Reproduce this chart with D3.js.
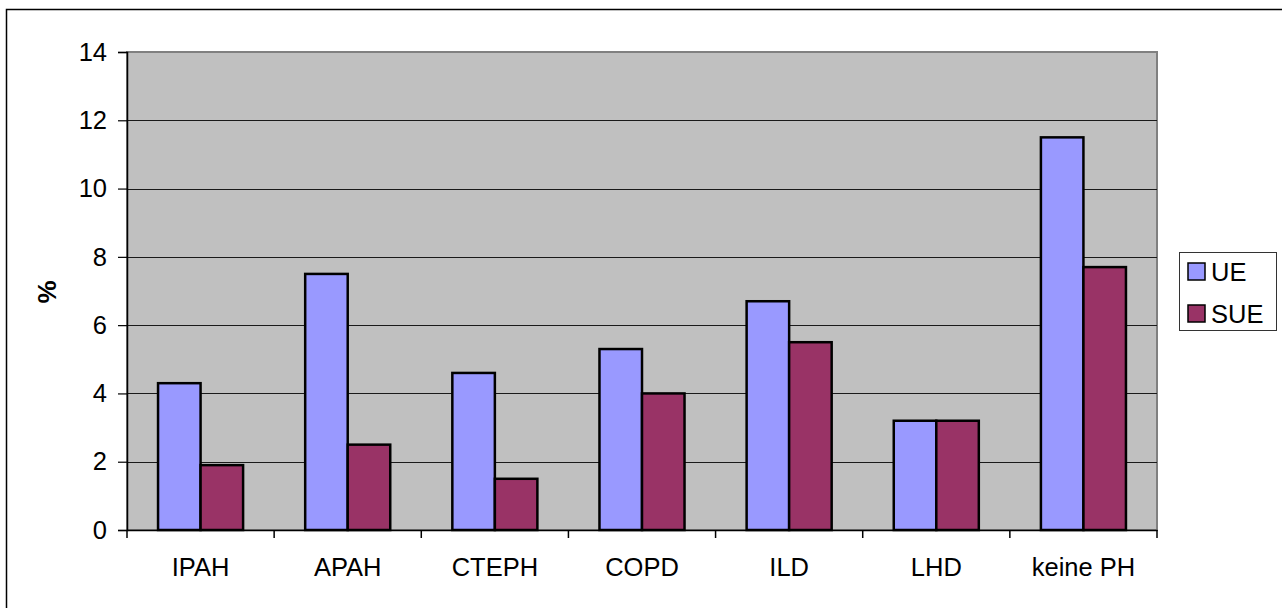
<!DOCTYPE html>
<html><head><meta charset="utf-8">
<script src="https://cdn.jsdelivr.net/npm/d3@7/dist/d3.min.js"></script>
<style>body{margin:0;background:#fff}svg{display:block}text{font-family:"Liberation Sans",Arial,sans-serif}</style>
</head><body>
<svg id="c" width="1282" height="608"></svg>
<script>
const categories = ["IPAH","APAH","CTEPH","COPD","ILD","LHD","keine PH"];
const seriesNames = ["UE","SUE"];
const ueValues = [4.3,7.5,4.6,5.3,6.7,3.2,11.5];
const sueValues = [1.9,2.5,1.5,4.0,5.5,3.2,7.7];
const yTicks = [0,2,4,6,8,10,12,14];
const colors = ["#9999FF","#993366"];

const svg = d3.select("#c");
const L=127, R=1157, T=52, B=530;
const FS = 25.5;
svg.append("rect").attr("x",6.5).attr("y",9.5).attr("width",1290).attr("height",620)
  .attr("fill","none").attr("stroke","#000").attr("stroke-width",1.5);

const x = d3.scaleBand().domain(categories).range([L,R]);
const y = d3.scaleLinear().domain([0,14]).range([B,T]);

svg.append("rect").attr("x",L).attr("y",T).attr("width",R-L).attr("height",B-T)
  .attr("fill","#C0C0C0").attr("stroke","#808080").attr("stroke-width",2);

svg.append("g").selectAll("line").data(yTicks.filter(d=>d>0&&d<14)).join("line")
  .attr("x1",L).attr("x2",R).attr("y1",d=>Math.round(y(d))+0.5).attr("y2",d=>Math.round(y(d))+0.5)
  .attr("stroke","#1a1a1a").attr("stroke-width",1.2);

const bw = x.bandwidth()*0.289;
const off = (x.bandwidth()-2*bw)/2;
const data = categories.map((c,i)=>({c, v:[ueValues[i],sueValues[i]]}));
const g = svg.append("g");
data.forEach(d=>{
  d.v.forEach((v,j)=>{
    g.append("rect").attr("x",x(d.c)+off+j*bw).attr("y",y(v)).attr("width",bw).attr("height",B-y(v))
      .attr("fill",colors[j]).attr("stroke","#000").attr("stroke-width",2.5);
  });
});

const ya = d3.axisLeft(y).tickValues(yTicks).tickSize(9).tickPadding(11).tickFormat(d3.format("d"));
const yg = svg.append("g").attr("transform",`translate(${L},0)`).call(ya);
yg.select(".domain").attr("stroke","#000").attr("stroke-width",1.5);
yg.selectAll(".tick line").attr("stroke","#000").attr("stroke-width",1.2);
yg.selectAll("text").attr("font-size",FS).attr("fill","#000").attr("font-family","Liberation Sans, Arial");

const xa = d3.axisBottom(x).tickSize(0).tickPadding(28);
const xg = svg.append("g").attr("transform",`translate(0,${B})`).call(xa);
xg.select(".domain").attr("stroke","#000").attr("stroke-width",1.5);
xg.selectAll("text").attr("font-size",FS).attr("fill","#000").attr("font-family","Liberation Sans, Arial");
const bounds = categories.map(c=>x(c)).concat([R]);
svg.append("g").selectAll("line").data(bounds).join("line")
  .attr("x1",d=>d).attr("x2",d=>d).attr("y1",B).attr("y2",B+8).attr("stroke","#000").attr("stroke-width",1.5);

svg.append("text").attr("transform","translate(56,292) rotate(-90)").attr("text-anchor","middle")
  .attr("font-size",26).attr("font-weight","bold").text("%");

const lg = svg.append("g");
lg.append("rect").attr("x",1179.5).attr("y",252.5).attr("width",97).attr("height",78)
  .attr("fill","#fff").attr("stroke","#333").attr("stroke-width",1);
seriesNames.forEach((s,i)=>{
  lg.append("rect").attr("x",1188).attr("y",263+i*42).attr("width",17).attr("height",17)
    .attr("fill",colors[i]).attr("stroke","#000").attr("stroke-width",1.5);
  lg.append("text").attr("x",1211).attr("y",281+i*42).attr("font-size",FS).text(s);
});
</script>
</body></html>
